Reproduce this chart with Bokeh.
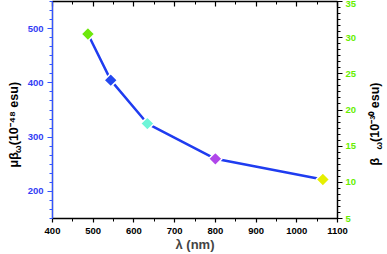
import math
from bokeh.plotting import figure
from bokeh.models import (LinearAxis, Range1d, SingleIntervalTicker, Label, ColumnDataSource,
                          CustomJSTickFormatter)
from bokeh.embed import file_html
from bokeh.resources import INLINE

# ---- data ----
wavelength = [487, 543, 633, 800, 1064]
mu_beta = [490, 405, 325, 260, 222]
point_colors = ["#6ee80c", "#2448f0", "#6ef5d8", "#b046ea", "#e6ef00"]

x_ticks_major = 100
left_ticks_major = 100
right_ticks_major = 5

FONT = "Liberation Sans"
BLUE = "#3340f5"
GREEN = "#66ee00"
LINE = "#1f3cf0"

p = figure(width=387, height=254, output_backend="svg", toolbar_location=None,
           x_range=Range1d(400, 1100), y_range=Range1d(150, 550),
           min_border_left=51, min_border_right=50, min_border_top=1, min_border_bottom=36,
           x_axis_location=None, y_axis_location=None)
p.grid.visible = False
p.outline_line_color = "black"
p.outline_line_width = 1.2
p.extra_y_ranges = {"beta": Range1d(5, 35)}

def style(ax, color, label_color, standoff):
    ax.axis_line_color = color
    ax.major_tick_line_color = color
    ax.minor_tick_line_color = color
    ax.axis_line_width = 1.3
    ax.major_tick_line_width = 1.2
    ax.minor_tick_line_width = 1
    ax.major_label_text_font = FONT
    ax.major_label_text_font_style = "bold"
    ax.major_label_text_font_size = "9.5px"
    ax.major_label_text_color = label_color
    ax.major_tick_out = 5
    ax.major_tick_in = 0
    ax.minor_tick_out = 3
    ax.minor_tick_in = 0
    ax.major_label_standoff = standoff

left = LinearAxis(ticker=SingleIntervalTicker(interval=left_ticks_major, num_minor_ticks=6))
style(left, "#3355ff", BLUE, 4)
p.add_layout(left, "left")

right = LinearAxis(y_range_name="beta", ticker=SingleIntervalTicker(interval=right_ticks_major, num_minor_ticks=6))
style(right, "black", GREEN, 3)
p.add_layout(right, "right")

bottom = LinearAxis(ticker=SingleIntervalTicker(interval=x_ticks_major, num_minor_ticks=2),
                    axis_label="λ (nm)")
style(bottom, "black", "black", 5)
bottom.major_tick_out = 4
bottom.axis_label_text_font = FONT
bottom.axis_label_text_font_style = "bold"
bottom.axis_label_text_font_size = "13px"
bottom.axis_label_standoff = 0
p.add_layout(bottom, "below")

top = LinearAxis(ticker=SingleIntervalTicker(interval=x_ticks_major, num_minor_ticks=2),
                 formatter=CustomJSTickFormatter(code="return ''"))
style(top, "black", "black", 0)
top.major_tick_in = 5
top.major_tick_out = 0
top.minor_tick_in = 3
top.minor_tick_out = 0
p.add_layout(top, "above")

src = ColumnDataSource(dict(x=wavelength, y=mu_beta, c=point_colors))
p.line("x", "y", source=src, line_color=LINE, line_width=2.5)
p.scatter("x", "y", source=src, marker="square", angle=math.pi / 4, size=9.5,
          fill_color="c", line_color="white", line_width=1.5)

# axis titles: rotated labels in canvas pixels (placed in side panels so they are not clipped)
def lab(text, cx, cy, size, side):
    p.add_layout(Label(x=cx, y=cy, x_units="canvas", y_units="canvas", text=text,
                       angle=math.pi / 2, text_align="left", text_baseline="middle",
                       text_font=FONT, text_font_style="bold",
                       text_font_size=size, text_color="black"), side)

# left: μβω (10⁻⁴⁸ esu), reading bottom to top
lab("μβ\u00a0\u00a0(10⁻⁴⁸ esu)", 13, 167, "12.5px", "left")
lab("ω", 17, 152.5, "9px", "left")

# right: βω (10⁻³⁰ esu)
lab("β\u2002\u2002\u00a0(10⁻³⁰ esu)", 374, 165, "12.5px", "right")
lab("ω", 378.5, 149, "9px", "right")

open("out.html", "w").write(file_html(p, INLINE))
